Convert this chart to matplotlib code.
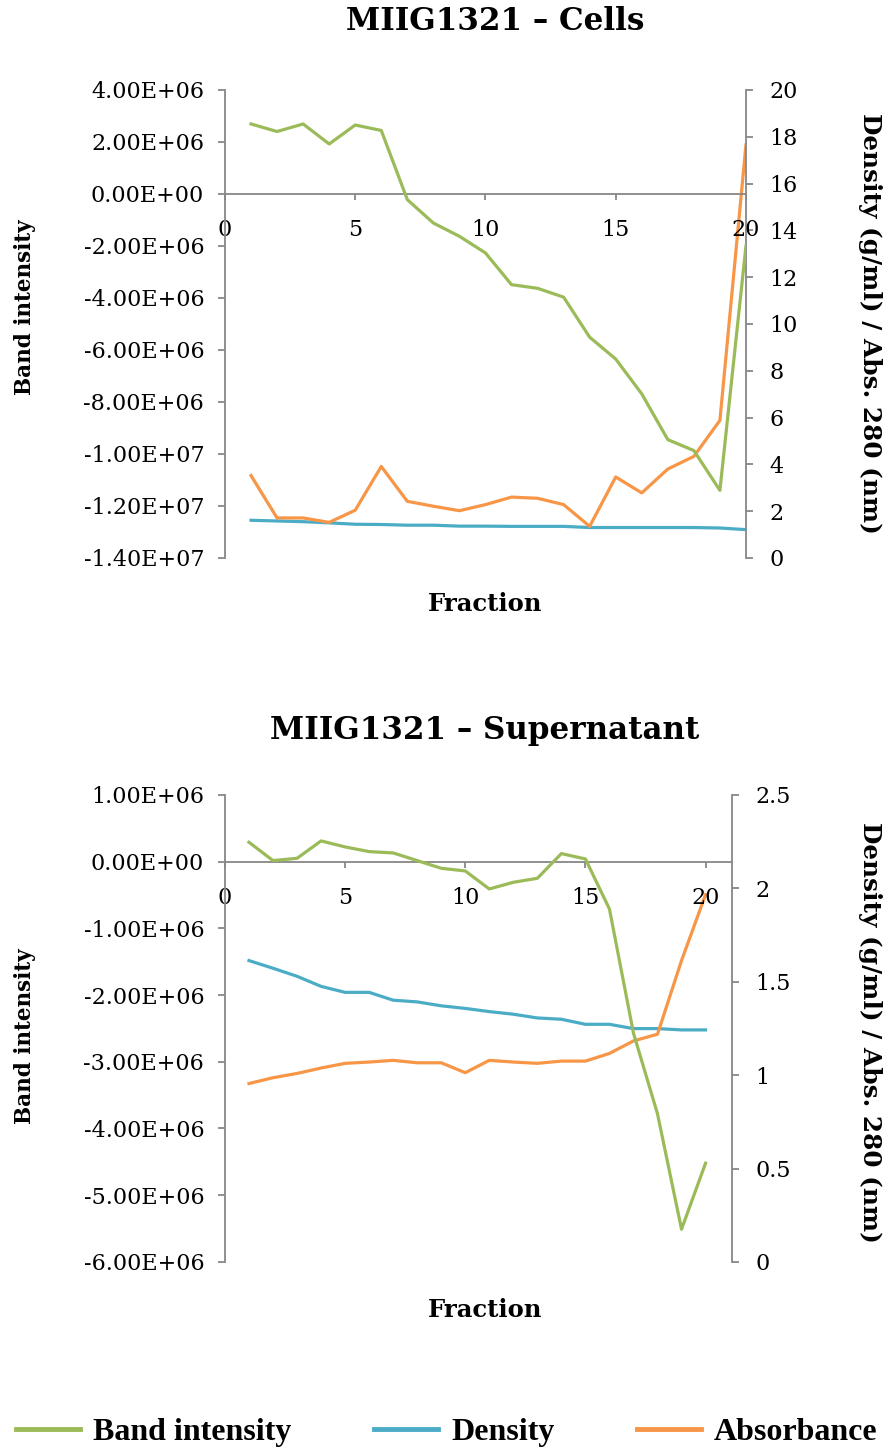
import matplotlib
matplotlib.use('Agg')
import matplotlib.pyplot as plt
from matplotlib.ticker import FuncFormatter, MultipleLocator
from matplotlib.lines import Line2D

# Data
fraction = list(range(1, 21))

cells_band = [2.69e6, 2.40e6, 2.69e6, 1.92e6, 2.65e6, 2.44e6, -0.22e6, -1.12e6, -1.63e6, -2.27e6,
              -3.49e6, -3.63e6, -3.97e6, -5.51e6, -6.35e6, -7.69e6, -9.45e6, -9.87e6, -11.4e6, -2.0e6]
cells_density = [1.61, 1.58, 1.55, 1.50, 1.44, 1.43, 1.40, 1.40, 1.36, 1.36,
                 1.35, 1.35, 1.35, 1.30, 1.30, 1.30, 1.30, 1.30, 1.28, 1.21]
cells_abs = [3.52, 1.71, 1.71, 1.52, 2.04, 3.91, 2.42, 2.21, 2.02, 2.28,
             2.60, 2.55, 2.28, 1.35, 3.46, 2.78, 3.80, 4.34, 5.88, 17.65]

sup_band = [0.29e6, 0.015e6, 0.05e6, 0.31e6, 0.22e6, 0.15e6, 0.13e6, 0.015e6, -0.10e6, -0.14e6,
            -0.41e6, -0.31e6, -0.25e6, 0.12e6, 0.04e6, -0.71e6, -2.57e6, -3.78e6, -5.51e6, -4.52e6]
sup_density = [1.613, 1.572, 1.529, 1.475, 1.443, 1.443, 1.401, 1.392, 1.371, 1.357,
               1.340, 1.326, 1.306, 1.299, 1.272, 1.272, 1.249, 1.249, 1.242, 1.242]
sup_abs = [0.955, 0.986, 1.009, 1.038, 1.063, 1.070, 1.079, 1.066, 1.066, 1.013,
           1.079, 1.070, 1.063, 1.075, 1.075, 1.116, 1.183, 1.219, 1.613, 1.966]

titles = ['MIIG1321 \u2013 Cells', 'MIIG1321 \u2013 Supernatant']
legend_labels = ['Band intensity', 'Density', 'Absorbance']

GREEN = '#9BBB59'
BLUE = '#4BACC6'
ORANGE = '#F79646'
GRAY = '#878787'

plt.rcParams['font.family'] = 'DejaVu Serif'

fig = plt.figure(figsize=(8.85, 14.5), dpi=100)


def sci_fmt(v, pos):
    return f'{v:.2E}'


def gen_fmt(v, pos):
    return f'{v:g}'


def make_panel(rect, band, dens, absb, xmax, ylim_l, step_l, ylim_r, step_r):
    ax1 = fig.add_axes(rect)
    ax2 = ax1.twinx()

    ax1.plot(fraction, band, color=GREEN, lw=2.3, zorder=3)
    ax2.plot(fraction, dens, color=BLUE, lw=2.3)
    ax2.plot(fraction, absb, color=ORANGE, lw=2.3)

    ax1.set_xlim(0, xmax)
    ax1.set_ylim(*ylim_l)
    ax2.set_ylim(*ylim_r)
    ax1.yaxis.set_major_locator(MultipleLocator(step_l))
    ax2.yaxis.set_major_locator(MultipleLocator(step_r))
    ax1.xaxis.set_ticks([0, 5, 10, 15, 20])
    ax1.yaxis.set_major_formatter(FuncFormatter(sci_fmt))
    ax2.yaxis.set_major_formatter(FuncFormatter(gen_fmt))

    # x axis sits on the zero line of the left axis
    ax1.spines['bottom'].set_position(('data', 0))
    for ax in (ax1, ax2):
        ax.spines['top'].set_visible(False)
        for s in ax.spines.values():
            s.set_color(GRAY)
            s.set_linewidth(1.3)
    ax2.spines['bottom'].set_visible(False)
    ax1.spines['right'].set_visible(False)
    ax2.spines['left'].set_visible(False)

    ax1.tick_params(axis='y', direction='out', length=5, width=1.3, color=GRAY,
                    labelsize=16, pad=10)
    ax1.tick_params(axis='x', direction='out', length=4, width=1.3, color=GRAY,
                    labelsize=16, pad=14)
    ax2.tick_params(axis='y', direction='out', length=5, width=1.3, color=GRAY,
                    labelsize=16, pad=12)
    ax1.set_zorder(2)
    ax1.patch.set_visible(False)
    return ax1, ax2


# Top panel (cells)
make_panel([0.2542, 0.6152, 0.5887, 0.3228], cells_band, cells_density, cells_abs,
           20, (-1.4e7, 4e6), 2e6, (0, 20), 2)
# Bottom panel (supernatant)
make_panel([0.2542, 0.1297, 0.5729, 0.3221], sup_band, sup_density, sup_abs,
           21.1, (-6e6, 1e6), 1e6, (0, 2.5), 0.5)

# Titles and axis labels
H = 1450.0
W = 885.0
fig.text(495 / W, 1 - 22 / H, titles[0], ha='center', va='center', fontsize=22.3, fontweight='bold')
fig.text(485 / W, 1 - 730 / H, titles[1], ha='center', va='center', fontsize=22.3, fontweight='bold')
for yc in (307, 1036):
    fig.text(25 / W, 1 - yc / H, 'Band intensity', rotation=90, ha='center', va='center',
             fontsize=15.5, fontweight='bold')
for yc in (323, 1032):
    fig.text(870 / W, 1 - yc / H, 'Density (g/ml) / Abs. 280 (nm)', rotation=270, ha='center',
             va='center', fontsize=17.8, fontweight='bold')
for yc in (604, 1310):
    fig.text(485 / W, 1 - yc / H, 'Fraction', ha='center', va='center', fontsize=17.5,
             fontweight='bold')

# Legend at the bottom
handles = [Line2D([], [], color=c, lw=3.5) for c in (GREEN, BLUE, ORANGE)]
fig.legend(handles, legend_labels, loc='center', bbox_to_anchor=(0.505, 1 - 1432 / H),
           ncol=3, frameon=False, handlelength=2.0, handletextpad=0.4, columnspacing=2.6,
           borderpad=0, prop={'family': 'Liberation Serif', 'weight': 'bold', 'size': 23})

fig.savefig('out.png', dpi=100)
